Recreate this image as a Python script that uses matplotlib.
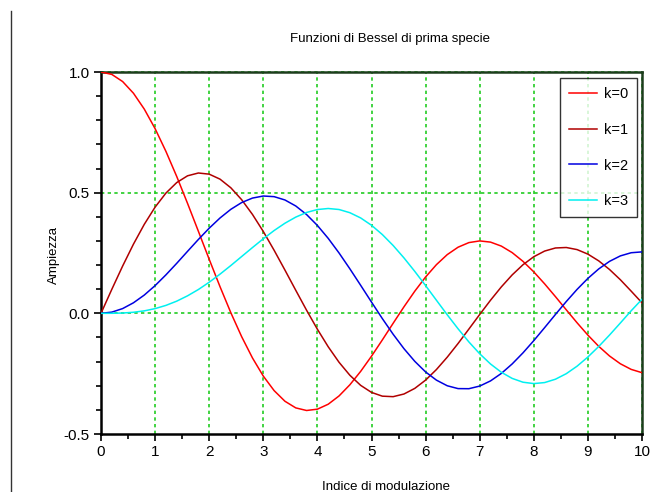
import matplotlib
matplotlib.use("Agg")
import matplotlib.pyplot as plt
from matplotlib.lines import Line2D
from matplotlib.ticker import MultipleLocator, FixedLocator

plt.rcParams['font.family'] = ['Liberation Sans', 'DejaVu Sans']

x = [0.0, 0.2, 0.4, 0.6, 0.8, 1.0, 1.2, 1.4, 1.6, 1.8, 2.0, 2.2, 2.4, 2.6, 2.8,
     3.0, 3.2, 3.4, 3.6, 3.8, 4.0, 4.2, 4.4, 4.6, 4.8, 5.0, 5.2, 5.4, 5.6, 5.8,
     6.0, 6.2, 6.4, 6.6, 6.8, 7.0, 7.2, 7.4, 7.6, 7.8, 8.0, 8.2, 8.4, 8.6, 8.8,
     9.0, 9.2, 9.4, 9.6, 9.8, 10.0]

k0 = [1.0, 0.9900, 0.9604, 0.9120, 0.8463, 0.7652, 0.6711, 0.5669, 0.4554, 0.3400,
      0.2239, 0.1104, 0.0025, -0.0968, -0.1850, -0.2601, -0.3202, -0.3643, -0.3918,
      -0.4026, -0.3971, -0.3766, -0.3423, -0.2961, -0.2404, -0.1776, -0.1103,
      -0.0412, 0.0270, 0.0917, 0.1506, 0.2017, 0.2433, 0.2740, 0.2931, 0.3001,
      0.2951, 0.2786, 0.2516, 0.2154, 0.1717, 0.1222, 0.0692, 0.0146, -0.0392,
      -0.0903, -0.1367, -0.1768, -0.2090, -0.2323, -0.2459]

k1 = [0.0, 0.0995, 0.1960, 0.2867, 0.3688, 0.4401, 0.4983, 0.5419, 0.5699, 0.5815,
      0.5767, 0.5560, 0.5202, 0.4708, 0.4097, 0.3391, 0.2613, 0.1792, 0.0955,
      0.0128, -0.0660, -0.1386, -0.2028, -0.2566, -0.2985, -0.3276, -0.3432,
      -0.3453, -0.3343, -0.3110, -0.2767, -0.2329, -0.1816, -0.1250, -0.0652,
      -0.0047, 0.0543, 0.1096, 0.1592, 0.2014, 0.2346, 0.2580, 0.2708, 0.2728,
      0.2641, 0.2453, 0.2174, 0.1816, 0.1392, 0.0919, 0.0435]

k2 = [0.0, 0.0050, 0.0197, 0.0437, 0.0757, 0.1149, 0.1594, 0.2073, 0.2570, 0.3061,
      0.3528, 0.3951, 0.4310, 0.4590, 0.4776, 0.4861, 0.4835, 0.4697, 0.4448,
      0.4093, 0.3641, 0.3106, 0.2501, 0.1845, 0.1160, 0.0466, -0.0217, -0.0867,
      -0.1464, -0.1989, -0.2429, -0.2768, -0.3001, -0.3119, -0.3123, -0.3014,
      -0.2800, -0.2490, -0.2097, -0.1638, -0.1130, -0.0593, -0.0047, 0.0488,
      0.0992, 0.1448, 0.1840, 0.2154, 0.2380, 0.2511, 0.2546]

k3 = [0.0, 0.0002, 0.0013, 0.0044, 0.0102, 0.0196, 0.0329, 0.0505, 0.0726, 0.0987,
      0.1289, 0.1624, 0.1981, 0.2354, 0.2726, 0.3090, 0.3431, 0.3734, 0.3987,
      0.4180, 0.4301, 0.4344, 0.4302, 0.4170, 0.3952, 0.3649, 0.3265, 0.2811,
      0.2297, 0.1738, 0.1148, 0.0543, -0.0060, -0.0640, -0.1185, -0.1675,
      -0.2099, -0.2442, -0.2696, -0.2854, -0.2911, -0.2869, -0.2730, -0.2501,
      -0.2190, -0.1809, -0.1374, -0.0899, -0.0400, 0.0106, 0.0583]

labels = ["k=0", "k=1", "k=2", "k=3"]
colors = ["#FF0000", "#B00000", "#0000E0", "#00F0F0"]
series = [k0, k1, k2, k3]

title = "Funzioni di Bessel di prima specie"
xlabel = "Indice di modulazione"
ylabel = "Ampiezza"
yticks = [-0.5, 0.0, 0.5, 1.0]
xticks = [0, 1, 2, 3, 4, 5, 6, 7, 8, 9, 10]

fig = plt.figure(figsize=(6.5, 4.92), dpi=100)
ax = fig.add_axes([101/650, 1-434/492, (642-101)/650, (434-72)/492])

gcol = "#22CC22"
for xv in xticks[1:]:
    ax.axvline(xv, color=gcol, lw=1.2, ls=(0, (2, 2)), zorder=1, clip_on=False)
for yv in yticks[1:]:
    ax.axhline(yv, color=gcol, lw=1.2, ls=(0, (2, 2)), zorder=1, clip_on=False)

for s, c, l in zip(series, colors, labels):
    ax.plot(x, s, color=c, lw=1.1, label=l, zorder=3)

ax.set_xlim(0, 10)
ax.set_ylim(-0.5, 1.0)
ax.xaxis.set_major_locator(FixedLocator(xticks))
ax.yaxis.set_major_locator(FixedLocator(yticks))
ax.xaxis.set_minor_locator(MultipleLocator(0.5))
ax.yaxis.set_minor_locator(MultipleLocator(0.1))
ax.set_xticklabels([str(v) for v in xticks])
ax.set_yticklabels(["%.1f" % v for v in yticks])
ax.tick_params(which='major', direction='out', length=5, width=1.2, labelsize=11, pad=3)
ax.tick_params(which='minor', direction='out', length=3.5, width=1.2)
ax.tick_params(top=False, right=False, which='both')

for side in ['left', 'bottom']:
    ax.spines[side].set_linewidth(1.8)
    ax.spines[side].set_color('black')
for side in ['top', 'right']:
    ax.spines[side].set_linewidth(1.8)
    ax.spines[side].set_color('#1d3d1d')

leg = ax.legend(loc='upper right', bbox_to_anchor=(637/650, 1-78/492),
                bbox_transform=fig.transFigure, frameon=True, fancybox=False,
                fontsize=10.5, handlelength=1.9, labelspacing=1.5,
                borderpad=0.6, handletextpad=0.5, borderaxespad=0)
leg.get_frame().set_edgecolor('black')
leg.get_frame().set_linewidth(1.0)
leg.set_zorder(5)

fig.text(390/650, 1-39/492, title, ha='center', va='center', fontsize=9.5)
fig.text(386/650, 1-487/492, xlabel, ha='center', va='center', fontsize=9.5)
fig.text(54/650, 1-255/492, ylabel, ha='center', va='center', rotation=90, fontsize=9.5)

fig.add_artist(Line2D([11/650, 11/650], [1-11/492, 0], transform=fig.transFigure,
                      color='#333333', lw=1.0))

fig.savefig("out.png", dpi=100)
